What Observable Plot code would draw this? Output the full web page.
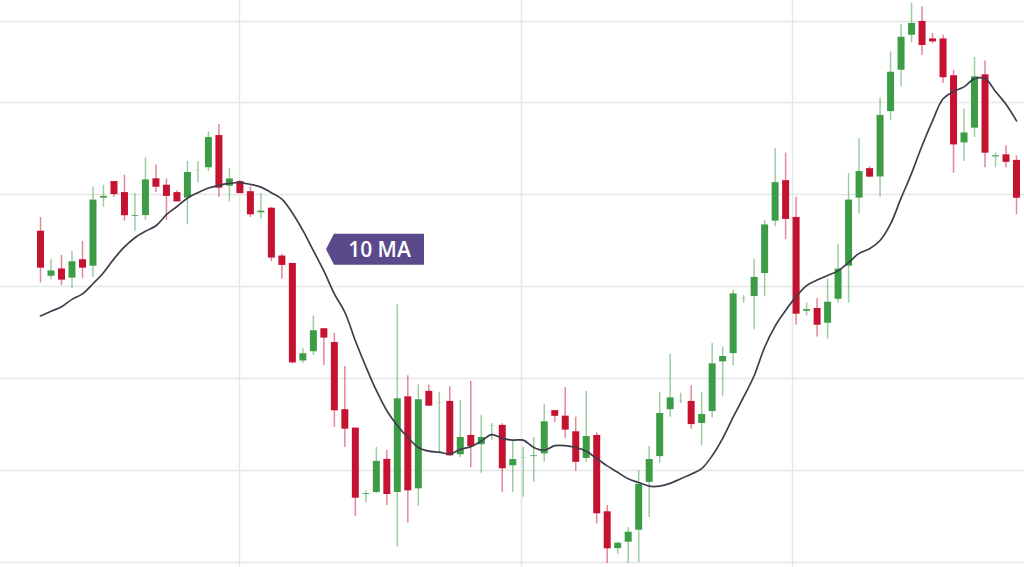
<!DOCTYPE html>
<html><head><meta charset="utf-8">
<script src="https://cdn.jsdelivr.net/npm/d3@7"></script>
<script src="https://cdn.jsdelivr.net/npm/@observablehq/plot@0.6"></script>
<style>html,body{margin:0;padding:0;background:#fff;overflow:hidden}</style>
</head><body><div id="chart"></div>
<script>
// Candle values (price units), one per session
const open  = [135.9,131.0,131.8,130.8,132.8,132.1,139.5,141.3,140.1,137.5,137.6,141.6,140.9,140.1,139.5,142.5,142.8,146.3,140.8,141.3,140.2,137.9,138.4,133.2,132.4,121.8,122.8,125.3,123.8,116.5,114.5,107.3,107.5,111.1,107.5,117.9,107.9,118.5,117.2,117.4,111.6,113.7,112.7,114.7,114.8,110.4,111.3,111.4,111.7,116.4,115.8,114.1,111.2,113.7,105.4,101.4,102.1,103.4,108.6,111.4,116.5,117.4,117.4,115.0,116.3,121.7,122.6,128.5,128.8,131.3,137.0,141.4,137.4,127.2,127.5,125.9,128.5,132.1,139.5,142.7,141.8,148.9,153.4,157.2,158.7,156.8,156.8,152.8,145.5,147.1,152.9,144.1,144.2,143.6];
const high  = [137.5,132.9,133.4,133.8,134.9,140.8,141.0,141.4,142.1,140.1,144.0,143.2,141.7,140.4,143.6,143.6,146.8,147.6,142.8,141.5,140.8,140.1,138.6,133.5,132.5,123.3,126.8,125.4,124.9,121.3,114.5,107.8,112.5,112.2,128.0,120.3,119.3,119.3,118.5,119.1,117.6,119.7,116.0,115.1,115.1,113.3,112.5,113.6,117.2,116.5,119.0,115.8,118.6,114.1,106.2,102.2,103.8,110.0,112.6,118.5,122.6,118.4,119.2,118.5,123.8,123.4,129.6,129.0,133.0,137.2,145.0,144.5,139.7,128.2,128.7,130.8,134.6,142.3,146.1,143.0,150.5,155.5,158.5,160.8,160.4,157.5,157.3,153.5,149.3,154.9,154.5,144.5,145.3,144.2];
const low   = [130.4,130.7,130.1,129.8,130.9,131.0,138.6,139.7,137.1,136.0,137.2,140.2,137.2,139.2,136.7,141.3,142.5,139.7,139.2,140.1,137.5,137.3,132.7,130.8,121.6,121.6,122.5,121.4,114.7,112.5,105.0,106.5,107.5,106.2,101.7,104.3,106.1,117.1,111.8,111.5,111.4,110.3,109.7,113.3,107.6,107.6,107.1,108.7,110.9,115.2,113.5,109.9,110.9,104.2,99.9,100.9,99.9,100.0,104.9,110.8,115.8,117.3,114.5,112.7,115.7,118.0,121.4,128.2,125.3,128.9,136.5,135.1,125.8,126.8,124.5,124.3,128.2,128.2,137.9,141.8,139.7,148.0,151.7,156.5,155.1,156.4,152.1,142.3,143.6,146.2,142.9,142.9,142.9,137.8];
const close = [132.1,131.8,130.8,132.8,132.1,139.5,139.9,140.1,137.8,137.8,141.7,140.9,139.9,139.3,142.5,142.7,146.3,140.8,141.8,140.2,137.9,138.3,133.2,132.4,121.8,122.8,125.3,124.5,116.6,114.6,107.1,107.6,111.1,107.5,117.9,107.9,117.8,117.1,117.4,111.7,113.7,112.7,113.7,114.9,110.3,111.3,111.5,111.7,115.4,116.0,114.5,111.0,113.8,105.4,101.6,102.2,103.4,108.6,111.3,116.3,118.0,117.6,115.1,116.2,121.7,122.5,129.3,128.7,131.1,136.8,141.4,137.4,127.1,127.6,125.9,128.4,132.0,139.5,142.6,142.0,148.7,153.4,157.2,158.7,156.3,156.7,152.8,145.5,146.8,152.9,144.6,144.2,143.6,139.7];
// 10-period moving average as drawn
const ma10  = [126.8,127.3,127.8,128.6,129.2,130.3,131.5,133.0,134.3,135.3,136.0,136.6,137.8,138.7,139.6,140.2,140.7,141.0,141.2,141.3,141.1,140.8,140.2,139.5,138.0,136.1,133.9,131.7,129.2,127.2,124.1,121.3,118.7,116.5,114.9,113.6,112.5,112.1,112.0,111.8,112.3,112.6,113.2,113.9,113.5,113.3,113.3,112.5,112.2,112.7,112.7,112.5,112.1,111.3,110.5,109.8,109.1,108.7,108.3,108.3,108.6,109.1,109.6,110.2,111.6,113.5,115.8,118.0,120.3,123.4,125.7,127.4,128.9,130.1,130.7,131.2,131.7,132.6,133.6,134.1,135.0,136.8,139.6,142.3,145.3,148.0,150.4,151.2,151.7,152.6,152.6,151.2,149.8,148.0];
const priceGrid = [100,110,120,130,140,150,158.8];
const sessionGrid = [18.96,45.83,71.66];
const labelText = "10 MA";
const labelSession = 27.25;
const labelPrice = 134.0;

const data = open.map((o, i) => ({i, open: o, high: high[i], low: low[i], close: close[i], ma: ma10[i]}));
const UP = "#3d9c46", DOWN = "#c51230";
const col = d => d.close >= d.open ? UP : DOWN;

function labelBox(index, scales) {
  const x = scales.x(labelSession), y = scales.y(labelPrice);
  const w = 98, h = 31, tip = 8;
  const g = d3.create("svg:g");
  g.append("path")
    .attr("d", `M${x},${y}L${x+tip},${y-h/2}L${x+w},${y-h/2}L${x+w},${y+h/2}L${x+tip},${y+h/2}Z`)
    .attr("fill", "#5a4a8b");
  return g.node();
}

const chart = Plot.plot({
  width: 1024,
  height: 567,
  margin: 0,
  style: {background: "#fff"},
  x: {type: "linear", domain: [-3.8115, 93.762], axis: null},
  y: {domain: [99.457, 161.087], axis: null},
  marks: [
    Plot.ruleY(priceGrid, {stroke: "#e6e6e6", strokeWidth: 1.5}),
    Plot.ruleX(sessionGrid, {stroke: "#e6e6e6", strokeWidth: 1.5}),
    Plot.ruleX(data, {x: "i", y1: "low", y2: "high", stroke: col, strokeOpacity: 0.5, strokeWidth: 1.5}),
    Plot.ruleX(data, {x: "i", y1: "open", y2: "close", stroke: col, strokeWidth: 7, insetTop: -1, insetBottom: -1}),
    Plot.line(data, {x: "i", y: "ma", stroke: "#3e3e4c", strokeWidth: 1.7, curve: "catmull-rom"}),
    labelBox,
    Plot.text([labelText], {x: () => labelSession, y: () => labelPrice, text: d => d, dx: 53, dy: 1, fill: "#fff", fontSize: 21, fontWeight: 600, fontFamily: "'Open Sans', sans-serif"})
  ]
});
document.getElementById("chart").appendChild(chart);
</script>
</body></html>
